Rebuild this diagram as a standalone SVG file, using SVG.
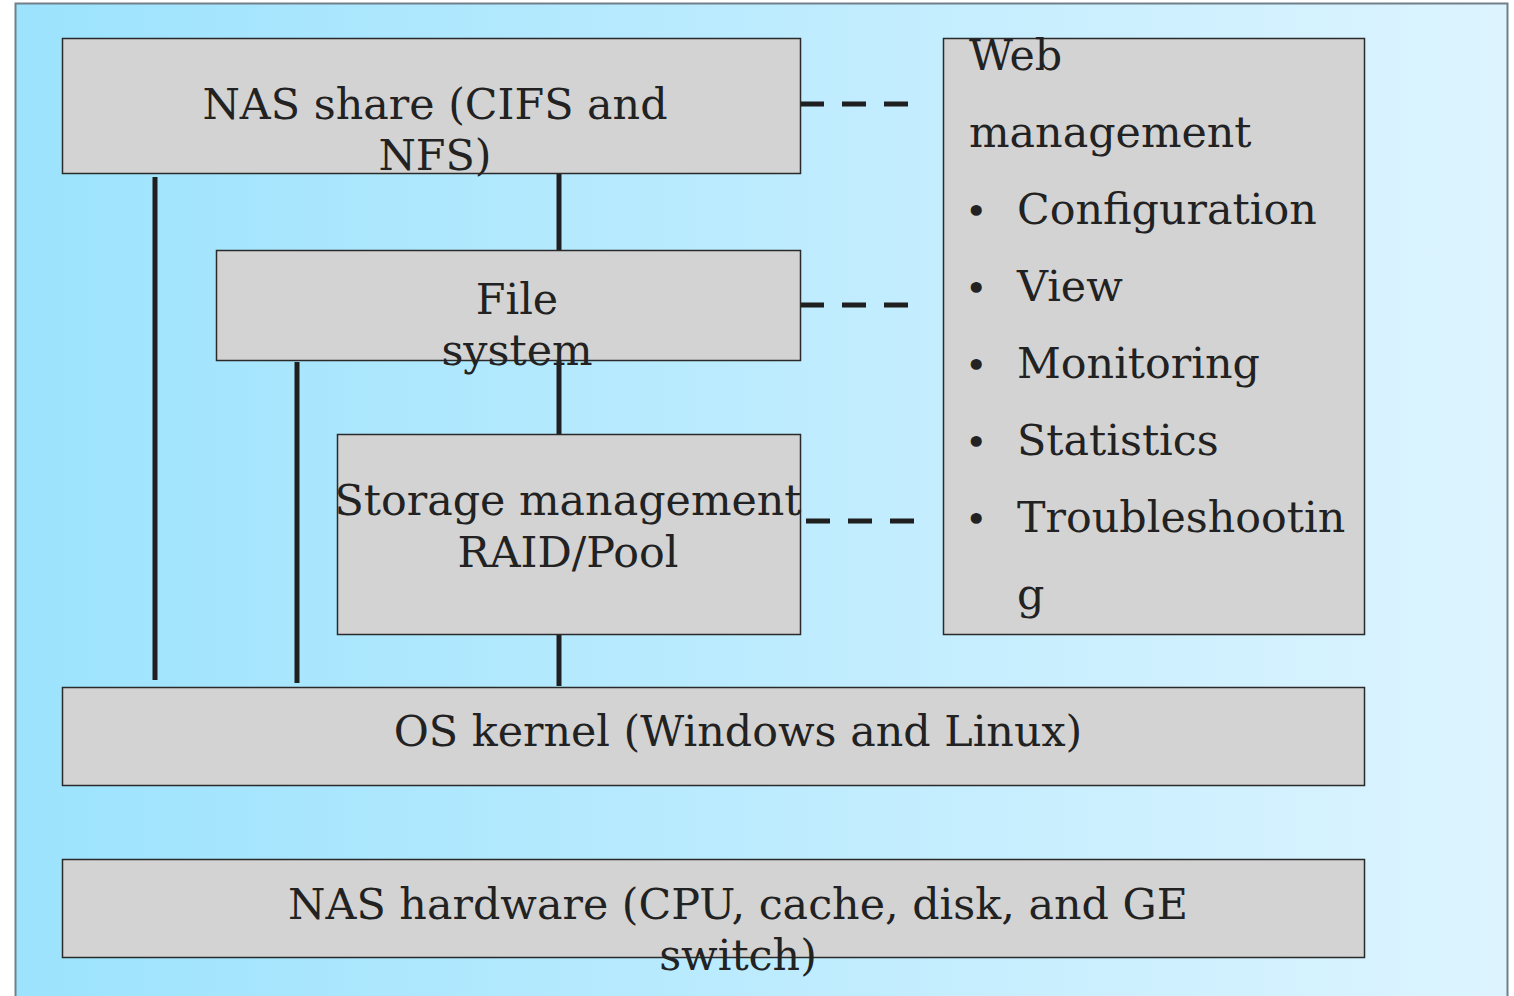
<svg xmlns="http://www.w3.org/2000/svg" width="1514" height="996" viewBox="0 0 1514 996">
  <defs>
    <linearGradient id="bg" x1="0" y1="0" x2="1" y2="0">
      <stop offset="0" stop-color="#9ce3fd"/>
      <stop offset="1" stop-color="#ddf4ff"/>
    </linearGradient>
  </defs>
  <style>
    .box { fill: #d3d3d3; stroke: #2a2a2a; stroke-width: 1.5; }
    .t { font-family: "DejaVu Serif", serif; font-size: 42.8px; fill: #222; }
    .b { font-family: "DejaVu Serif", serif; font-size: 38px; fill: #222; }
    .c { text-anchor: middle; }
    .solid { stroke: #1f1f1f; stroke-width: 5; fill: none; }
    .dash { stroke: #1f1f1f; stroke-width: 5; fill: none; stroke-dasharray: 24 18; }
  </style>

  <!-- panel background -->
  <rect x="15.5" y="3.5" width="1492" height="1000" fill="url(#bg)" stroke="#707f8a" stroke-width="2"/>

  <!-- connectors -->
  <g id="connectors">
    <line class="solid" x1="155" y1="177" x2="155" y2="680"/>
    <line class="solid" x1="297" y1="362" x2="297" y2="683"/>
    <line class="solid" x1="559" y1="174" x2="559" y2="250"/>
    <line class="solid" x1="559" y1="361" x2="559" y2="434"/>
    <line class="solid" x1="559" y1="635" x2="559" y2="686"/>
    <line class="dash" x1="800" y1="104" x2="908" y2="104"/>
    <line class="dash" x1="800" y1="305" x2="908" y2="305"/>
    <line class="dash" x1="806" y1="521" x2="914" y2="521"/>
  </g>

  <g id="nas-share">
    <rect class="box" x="62.5" y="38.5" width="738" height="135"/>
    <text class="t c" x="435" y="119">NAS share (CIFS and</text>
    <text class="t c" x="435" y="170">NFS)</text>
  </g>

  <g id="file-system">
    <rect class="box" x="216.5" y="250.5" width="584" height="110"/>
    <text class="t c" x="517" y="314">File</text>
    <text class="t c" x="517" y="365">system</text>
  </g>

  <g id="storage-management">
    <rect class="box" x="337.5" y="434.5" width="463" height="200"/>
    <text class="t c" x="568" y="515">Storage management</text>
    <text class="t c" x="568" y="567">RAID/Pool</text>
  </g>

  <g id="web-management">
    <rect class="box" x="943.5" y="38.5" width="421" height="596"/>
    <text class="t" x="969" y="70">Web</text>
    <text class="t" x="969" y="147">management</text>
    <g class="b">
      <text x="965" y="224">•</text>
      <text x="965" y="301">•</text>
      <text x="965" y="378">•</text>
      <text x="965" y="455">•</text>
      <text x="965" y="532">•</text>
    </g>
    <g class="t">
      <text x="1017" y="224">Configuration</text>
      <text x="1017" y="301">View</text>
      <text x="1017" y="378">Monitoring</text>
      <text x="1017" y="455">Statistics</text>
      <text x="1017" y="532">Troubleshootin</text>
      <text x="1017" y="609">g</text>
    </g>
  </g>

  <g id="os-kernel">
    <rect class="box" x="62.5" y="687.5" width="1302" height="98"/>
    <text class="t c" x="738" y="746">OS kernel (Windows and Linux)</text>
  </g>

  <g id="nas-hardware">
    <rect class="box" x="62.5" y="859.5" width="1302" height="98"/>
    <text class="t c" x="738" y="919">NAS hardware (CPU, cache, disk, and GE</text>
    <text class="t c" x="738" y="970">switch)</text>
  </g>
</svg>
